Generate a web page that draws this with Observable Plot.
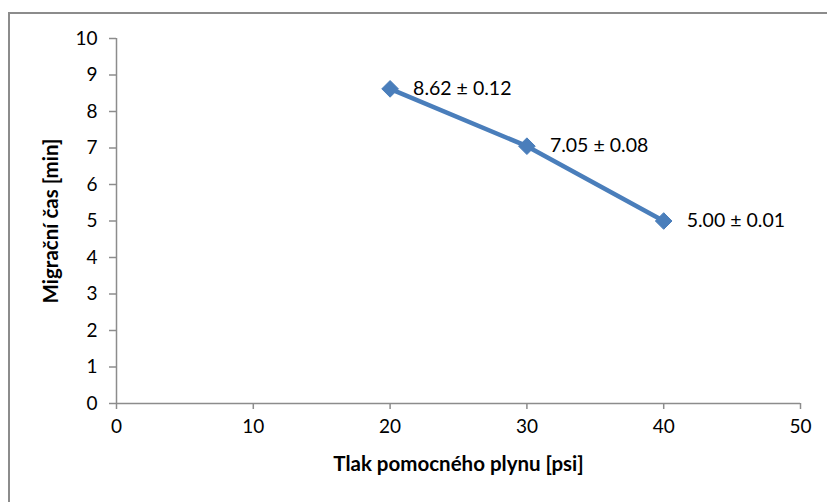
<!DOCTYPE html>
<html><head><meta charset="utf-8">
<script src="https://cdn.jsdelivr.net/npm/d3@7"></script>
<script src="https://cdn.jsdelivr.net/npm/@observablehq/plot@0.6"></script>
<style>
html,body{margin:0;padding:0;background:#fff;}
#wrap{position:relative;width:827px;height:502px;overflow:hidden;}
#border{position:absolute;left:8px;top:12px;width:900px;height:600px;border-left:2px solid #8c8c8c;border-top:2px solid #8c8c8c;box-sizing:border-box;}
#wrap svg{position:absolute;left:0;top:0;}
</style></head>
<body><div id="wrap"><div id="border"></div></div>
<script>
const pressure = [20, 30, 40];
const migrationTime = [8.62, 7.05, 5.00];
const labels = ["8.62 ± 0.12", "7.05 ± 0.08", "5.00 ± 0.01"];
const xTicks = [0, 10, 20, 30, 40, 50];
const yTicks = [0, 1, 2, 3, 4, 5, 6, 7, 8, 9, 10];
const xTitle = "Tlak pomocného plynu [psi]";
const yTitle = "Migrační čas [min]";

const data = pressure.map((p, i) => ({x: p, y: migrationTime[i], label: labels[i]}));
const axisColor = "#8c8c8c";
const blue = "#4a7ebb";

const chart = Plot.plot({
  width: 827, height: 502,
  marginLeft: 116, marginRight: 27, marginTop: 38, marginBottom: 99,
  style: {fontFamily: "Lato, sans-serif", background: "transparent", overflow: "visible"},
  x: {domain: [0, 50]},
  y: {domain: [0, 10]},
  marks: [
    Plot.ruleX([0], {stroke: axisColor, strokeWidth: 1.5}),
    Plot.ruleY([0], {stroke: axisColor, strokeWidth: 1.5}),
    Plot.axisX({ticks: xTicks, tickSize: 6, tickPadding: 10, stroke: axisColor, strokeWidth: 1.5, fill: "#000", fontSize: 19, label: null}),
    Plot.axisY({ticks: yTicks, tickSize: 7, tickPadding: 12, stroke: axisColor, strokeWidth: 1.5, fill: "#000", fontSize: 19, label: null}),
    Plot.line(data, {x: "x", y: "y", stroke: blue, strokeWidth: 4.5}),
    Plot.dot(data, {x: "x", y: "y", symbol: "diamond2", r: 7.5, fill: blue, stroke: blue, strokeWidth: 1}),
    Plot.text(data, {x: "x", y: "y", text: "label", dx: 23, textAnchor: "start", fontSize: 19.5, fill: "#000"}),
    Plot.text([xTitle], {frameAnchor: "bottom", dy: 67, text: d => d, fontSize: 20.5, fontWeight: "bold", fill: "#000"}),
    Plot.text([yTitle], {frameAnchor: "left", textAnchor: "middle", dx: -65, rotate: -90, text: d => d, fontSize: 20.5, fontWeight: "bold", fill: "#000"})
  ]
});
document.getElementById("wrap").appendChild(chart);
</script>
</body></html>
